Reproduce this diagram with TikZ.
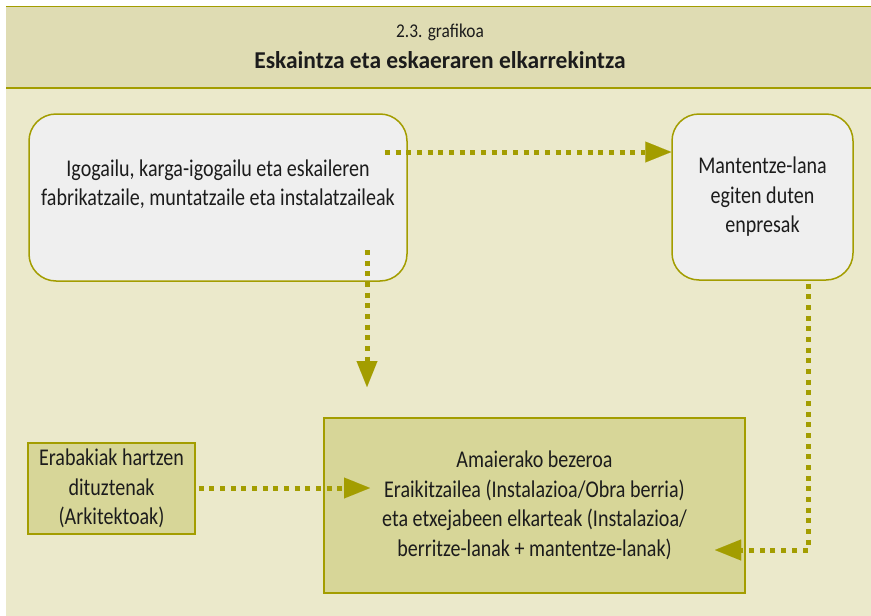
\documentclass[tikz,border=0pt]{standalone}
\usepackage{fontspec}
\setmainfont{Carlito}[FakeStretch=0.835]
\newfontfamily\subfont{Carlito}[FakeStretch=0.89]
\newfontfamily\titlefont{Carlito}[FakeStretch=0.97]
\usetikzlibrary{arrows.meta}
\definecolor{bg}{HTML}{EBE9CB}
\definecolor{hdr}{HTML}{DFDCB3}
\definecolor{olive}{HTML}{A39D00}
\definecolor{lightbox}{HTML}{EFEFEF}
\definecolor{darkbox}{HTML}{D7D698}
\definecolor{ink}{HTML}{1C1C1C}
\begin{document}
\begin{tikzpicture}[x=1pt,y=-1pt,
  box/.style={draw=olive,line width=1.5pt,inner sep=0pt,align=center,text=ink,
    font=\fontsize{24}{29.5}\selectfont},
  softbox/.style={box,fill=lightbox,rounded corners=27pt},
  flatbox/.style={box,fill=darkbox},
  link/.style={draw=olive,line width=5pt,dash pattern=on 5pt off 5.67pt,
    -{Triangle[length=26pt,width=21pt,line width=0.01pt]}}]
\useasboundingbox (0,0) rectangle (871,616);
\fill[white] (0,0) rectangle (871,616);
\fill[bg] (6,6) rectangle (871,616);
\fill[hdr] (6,6.5) rectangle (871,88);
\draw[olive,line width=1.5pt] (6,6.5) -- (871,6.5);
\draw[olive,line width=1.8pt] (6,88) -- (871,88);
\node[anchor=base,text=ink,font=\subfont\fontsize{19.5}{20}\selectfont] (sub) at (440,37) {2.3. grafikoa};
\node[anchor=base,text=ink,font=\titlefont\bfseries\fontsize{24.2}{26}\selectfont] (title) at (440,68) {Eskaintza eta eskaeraren elkarrekintza};

\node[softbox,minimum width=378pt,minimum height=167pt] (b1) at (218,197.5)
  {Igogailu, karga-igogailu eta eskaileren\\fabrikatzaile, muntatzaile eta instalatzaileak\\\mbox{}};
\node[softbox,minimum width=181pt,minimum height=166pt] (b2) at (762.5,197)
  {Mantentze-lana\\egiten duten\\enpresak};
\node[flatbox,minimum width=421pt,minimum height=175pt] (b3) at (534.5,505.5)
  {Amaierako bezeroa\\Eraikitzailea (Instalazioa/Obra berria)\\eta etxejabeen elkarteak (Instalazioa/\\berritze-lanak + mantentze-lanak)};
\node[flatbox,minimum width=167pt,minimum height=91pt] (b4) at (111.5,488.5)
  {Erabakiak hartzen\\dituztenak\\(Arkitektoak)};

\coordinate (s1) at (385,152);
\draw[link] (s1) -- (s1 -| b2.west);
\coordinate (s2) at (367,250);
\coordinate (e2) at (367,387);
\draw[link] (s2) -- (e2);
\coordinate (e3) at (370,488);
\draw[link,shorten <=3pt] (b4.east |- e3) -- (e3);
\coordinate (c4) at (808,550);
\coordinate (e4) at (715,550);
\draw[link,shorten <=3pt] (b2.south -| c4) -- (c4) -- (e4);
\end{tikzpicture}
\end{document}
